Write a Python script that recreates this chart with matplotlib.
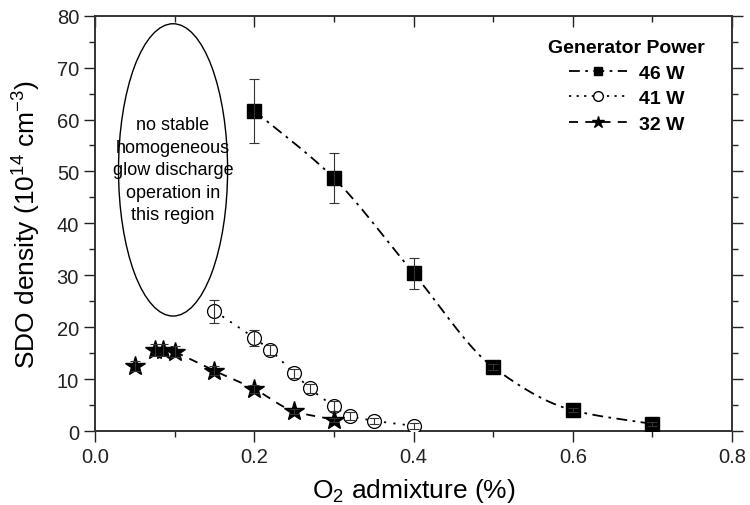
import numpy as np
import matplotlib
matplotlib.use('Agg')
import matplotlib.pyplot as plt
from matplotlib.patches import Ellipse
from matplotlib.ticker import MultipleLocator

plt.rcParams['font.family'] = ['Liberation Sans', 'DejaVu Sans']
plt.rcParams['mathtext.default'] = 'regular'

# SDO density (1e14 cm^-3) vs O2 admixture (%) for three generator powers
x46 = [0.2, 0.3, 0.4, 0.5, 0.6, 0.7]
y46 = [61.7, 48.7, 30.4, 12.3, 4.0, 1.35]
e46 = [6.2, 4.8, 3.0, 0.6, 0.4, 0.3]

x41 = [0.15, 0.2, 0.22, 0.25, 0.27, 0.3, 0.32, 0.35, 0.4]
y41 = [23.1, 17.9, 15.6, 11.1, 8.2, 4.8, 2.95, 2.0, 1.0]
e41 = [2.2, 1.6, 0.9, 0.9, 0.8, 0.9, 0.8, 0.6, 0.6]

x32 = [0.05, 0.075, 0.085, 0.1, 0.15, 0.2, 0.25, 0.3]
y32 = [12.5, 15.6, 15.6, 15.3, 11.6, 8.1, 3.8, 2.2]
e32 = [1.0, 1.1, 1.1, 1.0, 0.9, 0.8, 0.5, 0.4]


def pchip(x, y, n=200):
    # monotone cubic hermite curve through the points
    x = np.asarray(x, float)
    y = np.asarray(y, float)
    h = np.diff(x)
    d = np.diff(y) / h
    m = np.zeros_like(x)
    m[0], m[-1] = d[0], d[-1]
    for k in range(1, len(x) - 1):
        if d[k - 1] * d[k] > 0:
            w1 = 2 * h[k] + h[k - 1]
            w2 = h[k] + 2 * h[k - 1]
            m[k] = (w1 + w2) / (w1 / d[k - 1] + w2 / d[k])
    xs = np.linspace(x[0], x[-1], n)
    i = np.clip(np.searchsorted(x, xs) - 1, 0, len(x) - 2)
    t = (xs - x[i]) / h[i]
    h00 = 2 * t**3 - 3 * t**2 + 1
    h10 = t**3 - 2 * t**2 + t
    h01 = -2 * t**3 + 3 * t**2
    h11 = t**3 - t**2
    ys = h00 * y[i] + h10 * h[i] * m[i] + h01 * y[i + 1] + h11 * h[i] * m[i + 1]
    return xs, ys


fig = plt.figure(figsize=(7.5, 5.06), dpi=100)
ax = fig.add_axes([0.1267, 0.1462, 0.8493, 0.8208])

eb = dict(ecolor='#333333', elinewidth=0.8, capsize=3.5, capthick=0.8, linestyle='none')
ls46 = (0, (6, 3, 1.5, 3))
ls41 = (0, (1.2, 4))
ls32 = (0, (5, 4))

# trend lines
ax.plot(*pchip(x46, y46), color='black', lw=1.3, linestyle=ls46, zorder=2)
ax.plot(*pchip(x41, y41), color='black', lw=1.3, linestyle=ls41, zorder=2)
ax.plot(*pchip(x32[3:], y32[3:]), color='black', lw=1.3, linestyle=ls32, zorder=2)

# markers
ax.plot(x46, y46, 's', color='black', ms=10.5, zorder=3)
ax.plot(x41, y41, 'o', mfc='white', mec='black', mew=0.9, ms=10, zorder=3)
ax.plot(x32, y32, '*', color='black', ms=15, zorder=3)
ax.errorbar(x46, y46, yerr=e46, zorder=4, **eb)
ax.errorbar(x41, y41, yerr=e41, zorder=4, **eb)
ax.errorbar(x32, y32, yerr=e32, zorder=4, **eb)

# region without stable discharge
ax.add_patch(Ellipse((0.098, 50.3), 0.137, 56.3, fill=False, edgecolor='black', lw=1.0))
ax.text(0.098, 50.3, 'no stable\nhomogeneous\nglow discharge\noperation in\nthis region',
        ha='center', va='center', fontsize=13, linespacing=1.42)

# legend
h46, = ax.plot([], [], color='black', lw=1.3, linestyle=ls46, marker='s', ms=6)
h41, = ax.plot([], [], color='black', lw=1.3, linestyle=(0, (1.2, 3)),
               marker='o', mfc='white', ms=7)
h32, = ax.plot([], [], color='black', lw=1.3, linestyle=ls32, marker='*', ms=9)
leg = ax.legend([h46, h41, h32], ['46 W', '41 W', '32 W'], loc='upper right',
                bbox_to_anchor=(0.985, 0.985), frameon=False, handlelength=3.0,
                handletextpad=0.6, labelspacing=0.4,
                prop={'weight': 'bold', 'size': 14}, title='Generator Power')
leg.get_title().set_fontweight('bold')
leg.get_title().set_fontsize(14)

ax.set_xlim(0, 0.8)
ax.set_ylim(0, 80)
ax.xaxis.set_major_locator(MultipleLocator(0.2))
ax.xaxis.set_minor_locator(MultipleLocator(0.1))
ax.yaxis.set_major_locator(MultipleLocator(10))
ax.yaxis.set_minor_locator(MultipleLocator(5))
ax.set_xticklabels([f'{v:.1f}' for v in ax.get_xticks()])

ax.tick_params(which='both', direction='out', top=True, right=True, labelsize=14.5,
               width=1.0, colors='#222222')
ax.tick_params(which='major', length=8)
ax.tick_params(which='minor', length=4)
# top and right ticks point into the axes
for t in ax.xaxis.get_ticklines(minor=False)[1::2] + ax.xaxis.get_ticklines(minor=True)[1::2]:
    t.set_marker(3)
for t in ax.yaxis.get_ticklines(minor=False)[1::2] + ax.yaxis.get_ticklines(minor=True)[1::2]:
    t.set_marker(1)
for s in ax.spines.values():
    s.set_linewidth(1.4)
    s.set_color('#333333')

ax.set_xlabel('O$_2$ admixture (%)', fontsize=19, labelpad=7)
ax.set_ylabel('SDO density (10$^{14}$ cm$^{-3}$)', fontsize=19, labelpad=10)

fig.savefig('out.png', dpi=100)
